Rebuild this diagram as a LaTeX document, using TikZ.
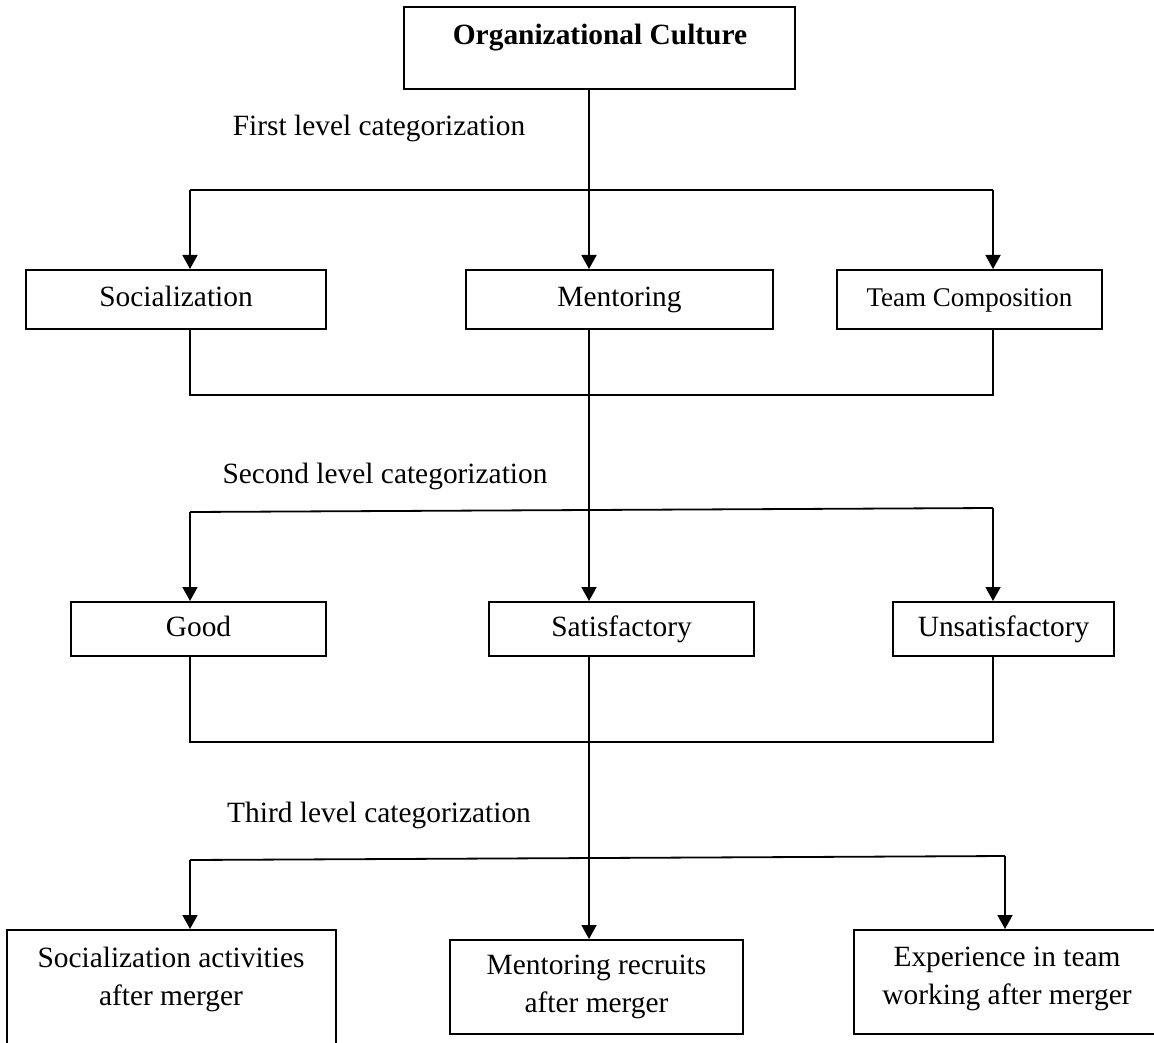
\documentclass[tikz,border=0pt]{standalone}
\usepackage{fontspec}
\setmainfont{Liberation Serif}
\usetikzlibrary{arrows.meta}
\begin{document}
\begin{tikzpicture}[x=0.5pt,y=-0.5pt,
  line width=0.9pt,
  txt/.style={font=\fontsize{14.7pt}{19pt}\selectfont, inner sep=0pt},
  box/.style={draw, line width=1pt, inner sep=0pt, align=center,
              font=\fontsize{14.7pt}{19pt}\selectfont},
  onebox/.style={box, text height=10.5pt, text depth=3.5pt},
  arr/.style={-{Triangle[length=7pt,width=7.5pt]}}]
\useasboundingbox (0,0) rectangle (1154,1042);

% top node
\node[box, minimum width=195.5pt, minimum height=41pt] (oc) at (599.5,48) {};
\node[txt, anchor=base, font=\fontsize{14.7pt}{19pt}\selectfont\bfseries] (octext) at (600,45) {Organizational Culture};

% first level
\node[onebox, minimum width=150pt,   minimum height=29.5pt] (soc)  at (176,299.5)  {Socialization};
\node[onebox, minimum width=153.5pt, minimum height=29.5pt] (ment) at (619.5,299.5) {Mentoring};
\node[onebox, minimum width=132.5pt, minimum height=29.5pt,
      font=\fontsize{13.5pt}{17pt}\selectfont] (team) at (969.5,299.5) {Team Composition};

% second level
\node[onebox, minimum width=127.5pt, minimum height=27pt] (good)  at (198.5,629)  {Good};
\node[onebox, minimum width=132.5pt, minimum height=27pt] (sat)   at (621.5,629)  {Satisfactory};
\node[onebox, minimum width=110.5pt, minimum height=27pt] (unsat) at (1003.5,629) {Unsatisfactory};

% third level
\node[box, minimum width=164.5pt, minimum height=85pt] (sab) at (171.5,1015) {};
\node[txt, align=center] (sabtext) at (171,979) {Socialization activities\\after merger};
\node[box, minimum width=146.5pt, minimum height=47pt] (mr) at (596.5,987) {Mentoring recruits\\after merger};
\node[box, minimum width=173pt, minimum height=52pt] (exp) at (1027,982) {};
\node[txt, align=center] (exptext) at (1007,979) {Experience in team\\working after merger};

% level captions
\node[txt, anchor=base] (cap1) at (379,136) {First level categorization};
\node[txt, anchor=base] (cap2) at (385,483) {Second level categorization};
\node[txt, anchor=base] (cap3) at (379,822) {Third level categorization};

% junction points
\coordinate (c)   at (589,190);
\coordinate (j1l) at (190,190);
\coordinate (j1r) at (993,190);
\coordinate (m1l) at (190,395);
\coordinate (m1r) at (993,395);
\coordinate (j2l) at (190,512);
\coordinate (j2r) at (993,508);
\coordinate (m2l) at (190,742);
\coordinate (m2r) at (993,742);
\coordinate (j3l) at (190,860);
\coordinate (j3r) at (1005,856);

% first split
\draw[arr] (oc.south -| c) -- (ment.north -| c);
\draw (j1l) -- (j1r);
\draw[arr] (j1l) -- (soc.north -| j1l);
\draw[arr] (j1r) -- (team.north -| j1r);
\draw (soc.south -| m1l) -- (m1l) -- (m1r) -- (team.south -| m1r);

% second split
\draw[arr] (ment.south -| c) -- (sat.north -| c);
\draw (j2l) -- (j2r);
\draw[arr] (j2l) -- (good.north -| j2l);
\draw[arr] (j2r) -- (unsat.north -| j2r);
\draw (good.south -| m2l) -- (m2l) -- (m2r) -- (unsat.south -| m2r);

% third split
\draw[arr] (sat.south -| c) -- (mr.north -| c);
\draw (j3l) -- (j3r);
\draw[arr] (j3l) -- (sab.north -| j3l);
\draw[arr] (j3r) -- (exp.north -| j3r);
\end{tikzpicture}
\end{document}
